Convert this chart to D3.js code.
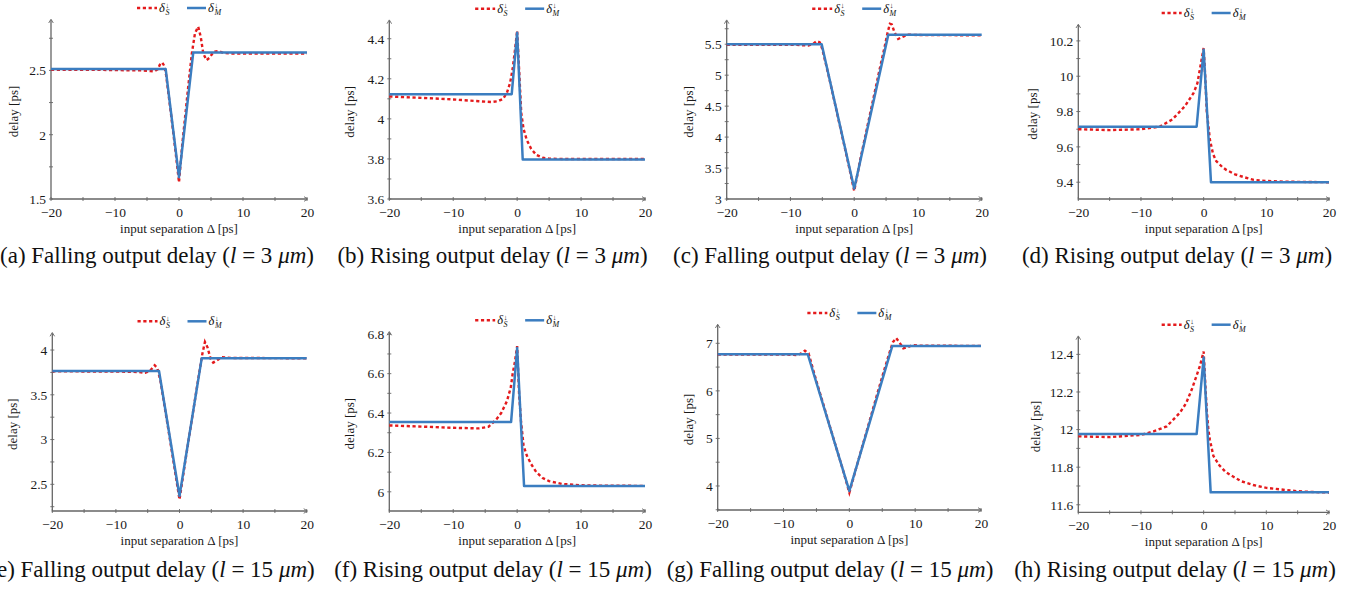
<!DOCTYPE html>
<html>
<head>
<meta charset="utf-8">
<script src="https://cdn.jsdelivr.net/npm/d3@7"></script>
<style>
  body { margin: 0; background: #fff; }
  svg { display: block; }
  svg text { font-family: "Liberation Serif", "Times New Roman", Times, serif; }
</style>
</head>
<body>
<svg width="1348" height="592"></svg>
<script>
// ---- data ----
const xTicks = [-20, -10, 0, 10, 20]
const xMinor = [-15, -5, 5, 15]

const panelTags = ['a', 'b', 'c', 'd', 'e', 'f', 'g', 'h']
const panelKind = ['Falling', 'Rising', 'Falling', 'Rising', 'Falling', 'Rising', 'Falling', 'Rising']
const panelLen = ['3', '3', '3', '3', '15', '15', '15', '15']

const yDomains = [[1.5, 2.892], [3.6, 4.49], [3, 5.88], [9.305, 10.29],
                  [2.202, 4.187], [5.9025, 6.81], [3.495, 7.385], [11.56, 12.494]]
const yTicks = [[1.5, 2, 2.5], [3.6, 3.8, 4, 4.2, 4.4], [3, 3.5, 4, 4.5, 5, 5.5], [9.4, 9.6, 9.8, 10, 10.2],
                [2.5, 3, 3.5, 4], [6, 6.2, 6.4, 6.6, 6.8], [4, 5, 6, 7], [11.6, 11.8, 12, 12.2, 12.4]]
const yMinor = [[1.75, 2.25, 2.75], [3.7, 3.9, 4.1, 4.3], [3.25, 3.75, 4.25, 4.75, 5.25, 5.75], [9.5, 9.7, 9.9, 10.1],
                [2.25, 2.75, 3.25, 3.75], [6.1, 6.3, 6.5, 6.7], [3.5, 4.5, 5.5, 6.5], [11.7, 11.9, 12.1, 12.3]]

// simulated delay (red dashed)  [delta, delay]
const simA = [[-20, 2.505], [-12, 2.504], [-6, 2.5], [-4.5, 2.495], [-3.9, 2.492], [-3.3, 2.51], [-2.9, 2.555], [-2.6, 2.56],
  [-2.3, 2.535], [-2, 2.46], [-1.5, 2.26], [-1, 2.06], [-0.5, 1.85], [0, 1.63], [0.5, 1.92], [1, 2.16], [1.5, 2.4],
  [2, 2.63], [2.5, 2.79], [3, 2.84], [3.4, 2.76], [3.8, 2.63], [4.3, 2.58], [4.8, 2.6], [5.4, 2.645], [6.2, 2.65],
  [7, 2.635], [8, 2.632], [20, 2.632]]
const simB = [[-20, 4.112], [-15, 4.105], [-10, 4.097], [-6, 4.088], [-4, 4.084], [-3, 4.088], [-2.2, 4.1], [-1.6, 4.13],
  [-1.1, 4.18], [-0.7, 4.25], [-0.35, 4.34], [0, 4.44], [0.3, 4.25], [0.64, 4.03], [1, 3.95], [1.5, 3.895], [2.2, 3.85],
  [3, 3.82], [4, 3.806], [5, 3.801], [7, 3.8], [20, 3.8]]
const simC = [[-20, 5.49], [-9, 5.49], [-7.2, 5.478], [-6.4, 5.51], [-5.9, 5.55], [-5.4, 5.53], [-5, 5.42], [-4, 4.99],
  [-3, 4.53], [-2, 4.07], [-1, 3.61], [0, 3.13], [1, 3.66], [2, 4.14], [3, 4.62], [4, 5.1], [4.8, 5.47], [5.2, 5.67],
  [5.6, 5.83], [5.9, 5.82], [6.3, 5.7], [6.9, 5.585], [7.6, 5.62], [8.5, 5.655], [10, 5.648], [20, 5.645]]
const simD = [[-20, 9.7], [-15, 9.695], [-10, 9.7], [-7, 9.715], [-5, 9.755], [-3, 9.83], [-1.6, 9.905], [-1, 9.96],
  [-0.55, 10.05], [0, 10.16], [0.25, 10.0], [0.5, 9.8], [1, 9.64], [1.5, 9.56], [2, 9.52], [3, 9.485], [3.6, 9.47],
  [5, 9.445], [6.5, 9.428], [8, 9.413], [10, 9.407], [13, 9.403], [20, 9.4]]
const simE = [[-20, 3.762], [-10, 3.76], [-6.5, 3.755], [-5.4, 3.745], [-4.6, 3.77], [-3.9, 3.83], [-3.5, 3.8], [-3, 3.66],
  [-2, 3.22], [-1, 2.78], [0, 2.33], [1, 2.8], [2, 3.25], [3, 3.7], [3.6, 3.96], [4, 4.09], [4.4, 4.03], [4.9, 3.9],
  [5.3, 3.86], [5.9, 3.885], [6.6, 3.92], [8, 3.912], [20, 3.908]]
const simF = [[-20, 6.337], [-14, 6.33], [-10, 6.325], [-6, 6.322], [-4.5, 6.33], [-3.2, 6.37], [-2.5, 6.4], [-1.6, 6.46],
  [-1, 6.53], [-0.7, 6.6], [-0.35, 6.66], [0, 6.74], [0.3, 6.5], [0.6, 6.36], [1, 6.235], [1.5, 6.185], [2.2, 6.14],
  [3, 6.1], [4, 6.07], [5, 6.054], [7, 6.04], [10, 6.033], [14, 6.031], [20, 6.03]]
const simG = [[-20, 6.765], [-10, 6.765], [-8, 6.755], [-7.4, 6.78], [-6.75, 6.845], [-6.2, 6.79], [-5, 6.2], [-4, 5.74],
  [-3, 5.27], [-2, 4.81], [-1, 4.35], [0, 3.86], [1, 4.36], [2, 4.85], [3, 5.33], [4, 5.82], [5, 6.3], [6, 6.76],
  [6.6, 7.02], [7.1, 7.11], [7.6, 7.02], [8.2, 6.895], [8.8, 6.92], [9.6, 6.96], [11, 6.95], [20, 6.945]]
const simH = [[-20, 11.964], [-15, 11.96], [-10, 11.972], [-8, 11.99], [-5.9, 12.017], [-3.8, 12.089], [-2.8, 12.14],
  [-1.9, 12.213], [-1.2, 12.28], [-0.6, 12.338], [0, 12.415], [0.25, 12.25], [0.5, 12.1], [0.75, 12.0], [1, 11.945],
  [1.55, 11.86], [2.5, 11.81], [3.5, 11.775], [4.7, 11.75], [6, 11.725], [7.9, 11.705], [10, 11.69], [12.7, 11.68],
  [15, 11.672], [17.5, 11.668], [20, 11.665]]

// model delay (blue solid)
const modA = [[-20, 2.51], [-2.08, 2.51], [0, 1.67], [2.23, 2.64], [20, 2.64]]
const modB = [[-20, 4.123], [-0.85, 4.123], [0, 4.43], [0.87, 3.797], [20, 3.797]]
const modC = [[-20, 5.5], [-5.1, 5.5], [0, 3.17], [5.35, 5.655], [20, 5.655]]
const modD = [[-20, 9.714], [-1.12, 9.714], [0, 10.15], [1.17, 9.4], [20, 9.4]]
const modE = [[-20, 3.766], [-3.22, 3.766], [0, 2.37], [3.49, 3.907], [20, 3.907]]
const modF = [[-20, 6.354], [-0.95, 6.354], [0, 6.73], [1.08, 6.03], [20, 6.03]]
const modG = [[-20, 6.77], [-6.32, 6.77], [0, 3.895], [6.53, 6.945], [20, 6.945]]
const modH = [[-20, 11.976], [-1.12, 11.976], [0, 12.383], [1.12, 11.666], [20, 11.666]]

const simSeries = [simA, simB, simC, simD, simE, simF, simG, simH]
const modSeries = [modA, modB, modC, modD, modE, modF, modG, modH]

// ---- layout (pixels) ----
const frames = [
  {x0: 51, x1: 307, top: 20, bottom: 199, ylab: -33.5, cap: 157, capY: 263},
  {x0: 389.3, x1: 645, top: 20.7, bottom: 199, ylab: -35, cap: 492.5, capY: 263},
  {x0: 726.7, x1: 981.7, top: 20.7, bottom: 199, ylab: -34, cap: 830, capY: 263},
  {x0: 1078.3, x1: 1329, top: 25, bottom: 199, ylab: -41, cap: 1177, capY: 263},
  {x0: 52.3, x1: 306.7, top: 333.3, bottom: 511, ylab: -35, cap: 152, capY: 576.7},
  {x0: 389.3, x1: 645, top: 332.3, bottom: 511, ylab: -35, cap: 493, capY: 576.7},
  {x0: 717.7, x1: 981, top: 325, bottom: 510, ylab: -25, cap: 830, capY: 576.7},
  {x0: 1078.3, x1: 1329, top: 336.7, bottom: 512.3, ylab: -38, cap: 1175, capY: 576.7}
]

const serif = '"Liberation Serif", "Times New Roman", Times, serif'
const red = '#e41a1c'
const blue = '#3b7dc0'
const axisGray = '#666'
const dash = '3.2,2.6'

const svg = d3.select('svg').attr('font-family', serif)

function symbol(g, x, y, sub) {
  g.append('text').attr('x', x).attr('y', y).attr('font-size', 12.5).attr('font-style', 'italic')
    .attr('fill', '#111').text('δ')
  g.append('text').attr('x', x + 6.6).attr('y', y - 4.5).attr('font-size', 7.5).attr('fill', '#111').text('↓')
  g.append('text').attr('x', x + 6.4).attr('y', y + 3).attr('font-size', 8).attr('font-style', 'italic')
    .attr('fill', '#111').text(sub)
}

frames.forEach((f, i) => {
  const x = d3.scaleLinear().domain([-20, 20]).range([f.x0, f.x1])
  const y = d3.scaleLinear().domain(yDomains[i]).range([f.bottom, f.top])
  const g = svg.append('g')

  // tick labels through d3 axes
  g.append('g')
    .attr('transform', `translate(0,${f.bottom})`)
    .call(d3.axisBottom(x).tickValues(xTicks).tickSize(0).tickPadding(8))
    .call(s => s.select('.domain').remove())
    .attr('font-family', serif).attr('font-size', 13.5)
    .selectAll('text').attr('fill', '#1a1a1a')
  g.append('g')
    .attr('transform', `translate(${f.x0},0)`)
    .call(d3.axisLeft(y).tickValues(yTicks[i]).tickSize(0).tickPadding(5).tickFormat(d => String(d)))
    .call(s => s.select('.domain').remove())
    .attr('font-family', serif).attr('font-size', 13.5)
    .selectAll('text').attr('fill', '#1a1a1a')

  // small crossing ticks
  const tk = g.append('g').attr('stroke', axisGray).attr('stroke-width', 0.9)
  xTicks.concat(xMinor).forEach(v => {
    tk.append('line').attr('x1', x(v)).attr('x2', x(v)).attr('y1', f.bottom - 2).attr('y2', f.bottom + 2)
  })
  yTicks[i].concat(yMinor[i]).forEach(v => {
    tk.append('line').attr('y1', y(v)).attr('y2', y(v)).attr('x1', f.x0 - 2).attr('x2', f.x0 + 2)
  })

  // axis lines with arrow tips
  const ax = g.append('g').attr('stroke', axisGray).attr('fill', 'none').attr('stroke-width', 1.3)
  ax.append('path').attr('d', `M${f.x0},${f.top}V${f.bottom}H${f.x1}`)
  ax.append('path').attr('stroke-width', 0.9).attr('d', `M${f.x1 - 3},${f.bottom - 2.3}L${f.x1 + 0.8},${f.bottom}L${f.x1 - 3},${f.bottom + 2.3}`)
  ax.append('path').attr('stroke-width', 0.9).attr('d', `M${f.x0 - 2.3},${f.top + 3}L${f.x0},${f.top - 0.8}L${f.x0 + 2.3},${f.top + 3}`)

  // curves
  const line = d3.line().x(d => x(d[0])).y(d => y(d[1]))
  g.append('path').datum(simSeries[i]).attr('d', line)
    .attr('fill', 'none').attr('stroke', red).attr('stroke-width', 2.4).attr('stroke-dasharray', dash)
  g.append('path').datum(modSeries[i]).attr('d', line)
    .attr('fill', 'none').attr('stroke', blue).attr('stroke-width', 2.5).attr('stroke-linejoin', 'round')

  // axis titles
  g.append('text').attr('x', (f.x0 + f.x1) / 2).attr('y', f.bottom + 33.5)
    .attr('text-anchor', 'middle').attr('font-size', 13).attr('fill', '#1a1a1a')
    .text('input separation Δ [ps]')
  g.append('text')
    .attr('transform', `translate(${f.x0 + f.ylab},${(f.top + f.bottom) / 2 + 2}) rotate(-90)`)
    .attr('text-anchor', 'middle').attr('font-size', 13).attr('fill', '#1a1a1a')
    .text('delay [ps]')

  // legend
  const lx = (f.x0 + f.x1) / 2 - 42
  const ly = f.top - 12
  const lg = g.append('g')
  lg.append('line').attr('x1', lx).attr('x2', lx + 20).attr('y1', ly).attr('y2', ly)
    .attr('stroke', red).attr('stroke-width', 2.4).attr('stroke-dasharray', dash)
  symbol(lg, lx + 22, ly + 4, 'S')
  lg.append('line').attr('x1', lx + 50).attr('x2', lx + 69).attr('y1', ly).attr('y2', ly)
    .attr('stroke', blue).attr('stroke-width', 2.5)
  symbol(lg, lx + 71, ly + 4, 'M')

  // caption
  const cap = svg.append('text').attr('x', f.cap).attr('y', f.capY)
    .attr('text-anchor', 'middle').attr('font-size', 23).attr('fill', '#111')
    .style('white-space', 'pre')
  cap.append('tspan').text(`(${panelTags[i]}) ${panelKind[i]} output delay (`)
  cap.append('tspan').attr('font-style', 'italic').text('l')
  cap.append('tspan').text(` = ${panelLen[i]} `)
  cap.append('tspan').attr('font-style', 'italic').text('μm')
  cap.append('tspan').text(')')
})
</script>
</body>
</html>
